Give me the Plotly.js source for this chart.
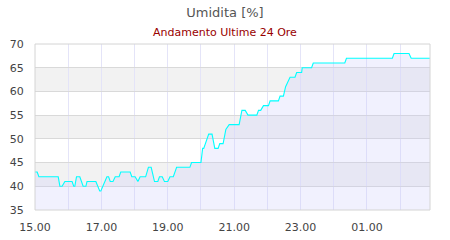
<!DOCTYPE html>
<html>
<head>
<meta charset="utf-8">
<script src="https://cdn.plot.ly/plotly-3.0.1.min.js"></script>
<style>html,body{margin:0;padding:0;background:#fff;}#chart{width:450px;height:240px;}</style>
</head>
<body>
<div id="chart"></div>
<script>
const chartTitle = 'Umidita [%]';
const chartSubtitle = 'Andamento Ultime 24 Ore';

const times = [
  '2024-01-01 15:00','2024-01-01 15:04','2024-01-01 15:07','2024-01-01 15:42','2024-01-01 15:45',
  '2024-01-01 15:49','2024-01-01 15:54','2024-01-01 16:07','2024-01-01 16:10','2024-01-01 16:12',
  '2024-01-01 16:15','2024-01-01 16:21','2024-01-01 16:27','2024-01-01 16:32','2024-01-01 16:34',
  '2024-01-01 16:50','2024-01-01 16:57','2024-01-01 16:59','2024-01-01 17:10','2024-01-01 17:13',
  '2024-01-01 17:16','2024-01-01 17:21','2024-01-01 17:25','2024-01-01 17:32','2024-01-01 17:35',
  '2024-01-01 17:52','2024-01-01 17:55','2024-01-01 18:01','2024-01-01 18:06','2024-01-01 18:10',
  '2024-01-01 18:20','2024-01-01 18:25','2024-01-01 18:30','2024-01-01 18:36','2024-01-01 18:42',
  '2024-01-01 18:45','2024-01-01 18:50','2024-01-01 18:54','2024-01-01 19:00','2024-01-01 19:04',
  '2024-01-01 19:10','2024-01-01 19:13','2024-01-01 19:16','2024-01-01 19:40','2024-01-01 19:43',
  '2024-01-01 20:00','2024-01-01 20:03','2024-01-01 20:05','2024-01-01 20:11','2024-01-01 20:14',
  '2024-01-01 20:20','2024-01-01 20:25','2024-01-01 20:31','2024-01-01 20:34','2024-01-01 20:40',
  '2024-01-01 20:45','2024-01-01 20:51','2024-01-01 21:09','2024-01-01 21:14','2024-01-01 21:20',
  '2024-01-01 21:25','2024-01-01 21:41','2024-01-01 21:44','2024-01-01 21:48','2024-01-01 21:53',
  '2024-01-01 22:02','2024-01-01 22:05','2024-01-01 22:20','2024-01-01 22:23','2024-01-01 22:29',
  '2024-01-01 22:33','2024-01-01 22:37','2024-01-01 22:41','2024-01-01 22:50','2024-01-01 22:53',
  '2024-01-01 23:02','2024-01-01 23:03','2024-01-01 23:20','2024-01-01 23:23','2024-01-02 00:20',
  '2024-01-02 00:23','2024-01-02 01:46','2024-01-02 01:49','2024-01-02 02:16','2024-01-02 02:20',
  '2024-01-02 02:54'
];
const humidity = [
  43,43,42,42,40,
  40,41,41,40,40,
  42,42,40,40,41,
  41,39,39,42,42,
  41,41,42,42,43,
  43,42,42,41,42,
  42,44,44,41,41,
  42,42,41,41,42,
  42,43,44,44,45,
  45,48,48,50,51,
  51,48,48,49,49,
  52,53,53,56,56,
  55,55,56,56,57,
  57,58,58,59,59,
  61,62,63,63,64,
  64,65,65,66,66,
  67,67,68,68,67,
  67
];
const yTicks = [35,40,45,50,55,60,65,70];
const xRange = ['2024-01-01 15:00','2024-01-02 02:54'];

const bandShapes = [[40,45],[50,55],[60,65]].map(b => ({
  type:'rect', xref:'paper', yref:'y', x0:0, x1:1, y0:b[0], y1:b[1],
  fillcolor:'#f2f2f2', line:{width:0}, layer:'below'
}));
bandShapes.push({type:'rect', xref:'paper', yref:'paper', x0:0, x1:1, y0:0, y1:1,
  fillcolor:'rgba(0,0,0,0)', line:{color:'#d4d4d4', width:1}, layer:'above'});

const trace = {
  x: times, y: humidity, type:'scatter', mode:'lines',
  line:{color:'#00ffff', width:1.1, shape:'linear'},
  fill:'tozeroy', fillcolor:'rgba(200,200,250,0.25)',
  hoverinfo:'skip'
};

const layout = {
  width:450, height:240,
  margin:{l:35, r:20, t:44, b:30},
  paper_bgcolor:'#ffffff', plot_bgcolor:'#ffffff',
  font:{family:'DejaVu Sans, sans-serif', size:11, color:'#444444'},
  showlegend:false,
  title:{text:chartTitle, x:0.5, xref:'container', y:0.95, yref:'container', yanchor:'middle',
    font:{family:'DejaVu Sans, sans-serif', size:13, color:'#555555'}},
  annotations:[{text:chartSubtitle, xref:'paper', yref:'paper', x:0.481, y:1.07,
    xanchor:'center', yanchor:'middle', showarrow:false,
    font:{family:'DejaVu Sans, sans-serif', size:11, color:'#990000'}}],
  xaxis:{type:'date', range:xRange, tick0:'2024-01-01 15:00', dtick:7200000,
    tickformat:'%H.%M', showgrid:true, gridcolor:'#e4e4f8', gridwidth:1,
    minor:{dtick:3600000, tick0:'2024-01-01 15:00', showgrid:true, gridcolor:'#e4e4f8', gridwidth:1},
    ticks:'outside', ticklen:7, tickcolor:'rgba(0,0,0,0)', zeroline:false, showline:false,
    tickfont:{size:11, color:'#444444'}},
  yaxis:{range:[35,70], tickvals:yTicks, showgrid:true, gridcolor:'#d9d9d9', gridwidth:1,
    ticks:'outside', ticklen:8, tickcolor:'rgba(0,0,0,0)', zeroline:false, showline:false,
    tickfont:{size:11, color:'#444444'}},
  shapes: bandShapes
};

Plotly.newPlot('chart', [trace], layout, {staticPlot:true, displayModeBar:false});
</script>
</body>
</html>
